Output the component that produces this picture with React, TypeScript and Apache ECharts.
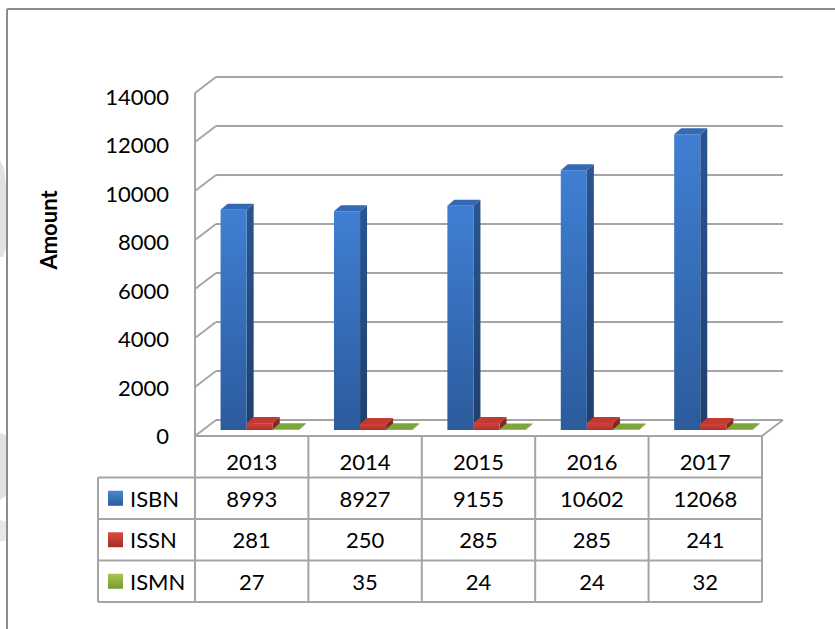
import React, { useEffect, useRef } from "react";
import * as echarts from "echarts";

const categories = ["2013", "2014", "2015", "2016", "2017"];
const seriesNames = ["ISBN", "ISSN", "ISMN"];
const isbnValues = [8993, 8927, 9155, 10602, 12068];
const issnValues = [281, 250, 285, 285, 241];
const ismnValues = [27, 35, 24, 24, 32];
const yTicks = [0, 2000, 4000, 6000, 8000, 10000, 12000, 14000];
const yMax = 14000;
const yInterval = 2000;
const yAxisTitle = "Amount";

const allValues = [isbnValues, issnValues, ismnValues];

// layout
const BACK = { left: 216, top: 77, width: 567, height: 343 };
const DX = 21; // depth offset (front = back - DX, + DY)
const DY = 16;
const FRONT = { left: 195, top: 96.5, width: 567, height: 339 };
const BAR_OFF_X = 13;
const BAR_OFF_Y = 10;
const BAR_DEPTH_X = 7;
const BAR_DEPTH_Y = 6;
const BAR_FRAC = 0.23;
const TABLE_TOP = BACK.top + BACK.height + DY; // 436
const ROW_H = 41.5;
const LEGEND_LEFT = 98;
const FONT = "Lato, 'Open Sans', sans-serif";
const LINE = "#a5a5a5";

const palettes = [
  {
    front: ["#3f7fd3", "#2c5b9c"],
    side: ["#2a5590", "#1f406e"],
    top: "#3468b2",
    swatch: ["#4a87d2", "#2b5c9c"],
  },
  {
    front: ["#d0433a", "#b0322b"],
    side: ["#962a24", "#7d211c"],
    top: "#c43a32",
    swatch: ["#da4a42", "#a62c27"],
  },
  {
    front: ["#8bb23f", "#6e9130"],
    side: ["#5f7d27", "#506a20"],
    top: "#7ea53a",
    swatch: ["#a6c84b", "#779a32"],
  },
];

function lg(c: string[]) {
  return new echarts.graphic.LinearGradient(0, 0, 0, 1, [
    { offset: 0, color: c[0] },
    { offset: 1, color: c[1] },
  ]);
}

export default function App() {
  const ref = useRef<HTMLDivElement>(null);
  useEffect(() => {
    if (!ref.current) return;
    const chart = echarts.init(ref.current, null, { renderer: "svg" });

    const wallsSeries = {
      type: "custom",
      xAxisIndex: 0,
      yAxisIndex: 0,
      z: 1,
      silent: true,
      data: [[0, 0]],
      renderItem: (params: any, api: any) => {
        const cs = params.coordSys;
        const children: any[] = [];
        const ls = { stroke: LINE, lineWidth: 2 };
        yTicks.forEach((v) => {
          const y = api.coord([0, v])[1];
          children.push({
            type: "line",
            shape: { x1: cs.x, y1: y, x2: cs.x - DX, y2: y + DY },
            style: ls,
          });
        });
        const y0 = api.coord([0, 0])[1];
        const yTop = api.coord([0, yMax])[1];
        children.push({
          type: "line",
          shape: { x1: cs.x - DX, y1: yTop + DY, x2: cs.x - DX, y2: y0 + DY },
          style: ls,
        });
        children.push({
          type: "line",
          shape: { x1: cs.x + cs.width, y1: y0, x2: cs.x + cs.width - DX, y2: y0 + DY },
          style: ls,
        });
        children.push({
          type: "line",
          shape: { x1: cs.x - DX, y1: y0 + DY, x2: cs.x + cs.width - DX, y2: y0 + DY },
          style: ls,
        });
        return { type: "group", children };
      },
    };

    const barSeries = allValues.map((vals, si) => ({
      type: "custom",
      name: seriesNames[si],
      xAxisIndex: 0,
      yAxisIndex: 0,
      z: 3 + si,
      data: vals.map((v, i) => [i, v]),
      renderItem: (params: any, api: any) => {
        const ci = api.value(0);
        const v = api.value(1);
        const base = api.coord([ci, 0]);
        const top = api.coord([ci, v]);
        const catW = api.size([1, 0])[0];
        const bw = catW * BAR_FRAC;
        const x0 = base[0] - BAR_OFF_X + (si - 1.5) * bw;
        const x1 = x0 + bw;
        const yb = base[1] + BAR_OFF_Y;
        const yt = top[1] + BAR_OFF_Y;
        const p = palettes[si];
        return {
          type: "group",
          children: [
            {
              type: "polygon",
              shape: { points: [[x1, yb], [x1, yt], [x1 + BAR_DEPTH_X, yt - BAR_DEPTH_Y], [x1 + BAR_DEPTH_X, yb - BAR_DEPTH_Y]] },
              style: { fill: lg(p.side) },
            },
            {
              type: "rect",
              shape: { x: x0, y: yt, width: bw, height: Math.max(yb - yt, 0.1) },
              style: { fill: lg(p.front) },
            },
            {
              type: "polygon",
              shape: { points: [[x0, yt], [x1, yt], [x1 + BAR_DEPTH_X, yt - BAR_DEPTH_Y], [x0 + BAR_DEPTH_X, yt - BAR_DEPTH_Y]] },
              style: { fill: p.top },
            },
          ],
        };
      },
    }));

    const tableSeries = allValues.map((vals, si) => ({
      type: "custom",
      name: seriesNames[si] + " table",
      xAxisIndex: 1,
      yAxisIndex: 1,
      z: 5,
      silent: true,
      data: vals.map((v, i) => [i, v]),
      renderItem: (params: any, api: any) => {
        const ci = api.value(0);
        const v = api.value(1);
        const x = api.coord([ci, 0])[0];
        const y = TABLE_TOP + ROW_H * (si + 1) + ROW_H / 2;
        return {
          type: "text",
          style: {
            text: String(v),
            x,
            y,
            align: "center",
            verticalAlign: "middle",
            fontSize: 22,
            fontFamily: FONT,
            fill: "#000",
          },
        };
      },
    }));

    const graphics: any[] = [];
    // faint background shapes at the left edge
    graphics.push({ type: "polygon", shape: { points: [[0, 160], [4, 168], [7, 195], [7, 245], [3, 257], [0, 257]] }, style: { fill: "#e2e2e2" } });
    graphics.push({ type: "polygon", shape: { points: [[0, 433], [7, 436], [7, 495], [0, 500]] }, style: { fill: "#e2e2e2" } });
    graphics.push({ type: "polygon", shape: { points: [[0, 520], [7, 522], [7, 540], [0, 542]] }, style: { fill: "#e8e8e8" } });
    // outer frame
    graphics.push({ type: "line", shape: { x1: 7, y1: 9, x2: 835, y2: 9 }, style: { stroke: "#8c8c8c", lineWidth: 2 } });
    graphics.push({ type: "line", shape: { x1: 7, y1: 9, x2: 7, y2: 629 }, style: { stroke: "#8c8c8c", lineWidth: 2 } });
    // table lines
    const tRight = FRONT.left + FRONT.width;
    const tBottom = TABLE_TOP + ROW_H * 4;
    for (let r = 1; r <= 4; r++) {
      const y = TABLE_TOP + ROW_H * r;
      graphics.push({ type: "line", shape: { x1: LEGEND_LEFT, y1: y, x2: tRight, y2: y }, style: { stroke: LINE, lineWidth: 2 } });
    }
    graphics.push({ type: "line", shape: { x1: LEGEND_LEFT, y1: TABLE_TOP + ROW_H, x2: LEGEND_LEFT, y2: tBottom }, style: { stroke: LINE, lineWidth: 2 } });
    for (let c = 0; c <= categories.length; c++) {
      const x = FRONT.left + (FRONT.width / categories.length) * c;
      graphics.push({ type: "line", shape: { x1: x, y1: TABLE_TOP, x2: x, y2: tBottom }, style: { stroke: LINE, lineWidth: 2 } });
    }
    // legend cells
    seriesNames.forEach((n, si) => {
      const cy = TABLE_TOP + ROW_H * (si + 1) + ROW_H / 2;
      graphics.push({ type: "rect", shape: { x: 108, y: cy - 7.5, width: 15, height: 15 }, style: { fill: lg(palettes[si].swatch) } });
      graphics.push({
        type: "text",
        style: { text: n, x: 130, y: cy, align: "left", verticalAlign: "middle", fontSize: 22, fontFamily: FONT, fill: "#000" },
      });
    });
    // axis title
    graphics.push({
      type: "text",
      x: 48,
      y: 230,
      rotation: Math.PI / 2,
      style: { text: yAxisTitle, x: 0, y: 0, align: "center", verticalAlign: "middle", fontSize: 22, fontWeight: "bold", fontFamily: FONT, fill: "#000" },
    });

    chart.setOption({
      animation: false,
      backgroundColor: "#fff",
      grid: [
        { left: BACK.left, top: BACK.top, width: BACK.width, height: BACK.height },
        { left: FRONT.left, top: FRONT.top, width: FRONT.width, height: FRONT.height },
      ],
      xAxis: [
        { type: "category", gridIndex: 0, data: categories, show: false },
        {
          type: "category",
          gridIndex: 1,
          data: categories,
          axisLine: { show: false },
          axisTick: { show: false },
          axisLabel: { fontSize: 22, fontFamily: FONT, color: "#000", margin: 15 },
        },
      ],
      yAxis: [
        {
          type: "value",
          gridIndex: 0,
          min: 0,
          max: yMax,
          interval: yInterval,
          axisLabel: { show: false },
          axisLine: { show: false },
          axisTick: { show: false },
          splitLine: { show: true, lineStyle: { color: LINE, width: 2 } },
        },
        {
          type: "value",
          gridIndex: 1,
          min: 0,
          max: yMax,
          interval: yInterval,
          axisLabel: {
            fontSize: 22,
            fontFamily: FONT,
            color: "#000",
            margin: 26,
            formatter: (v: number) => String(v),
          },
          axisLine: { show: false },
          axisTick: { show: false },
          splitLine: { show: false },
        },
      ],
      graphic: graphics,
      series: [wallsSeries, ...barSeries, ...tableSeries],
    });
    return () => chart.dispose();
  }, []);
  return (
    <div
      ref={ref}
      style={{ position: "fixed", left: 0, top: 0, width: 835, height: 629, background: "#fff" }}
    />
  );
}
